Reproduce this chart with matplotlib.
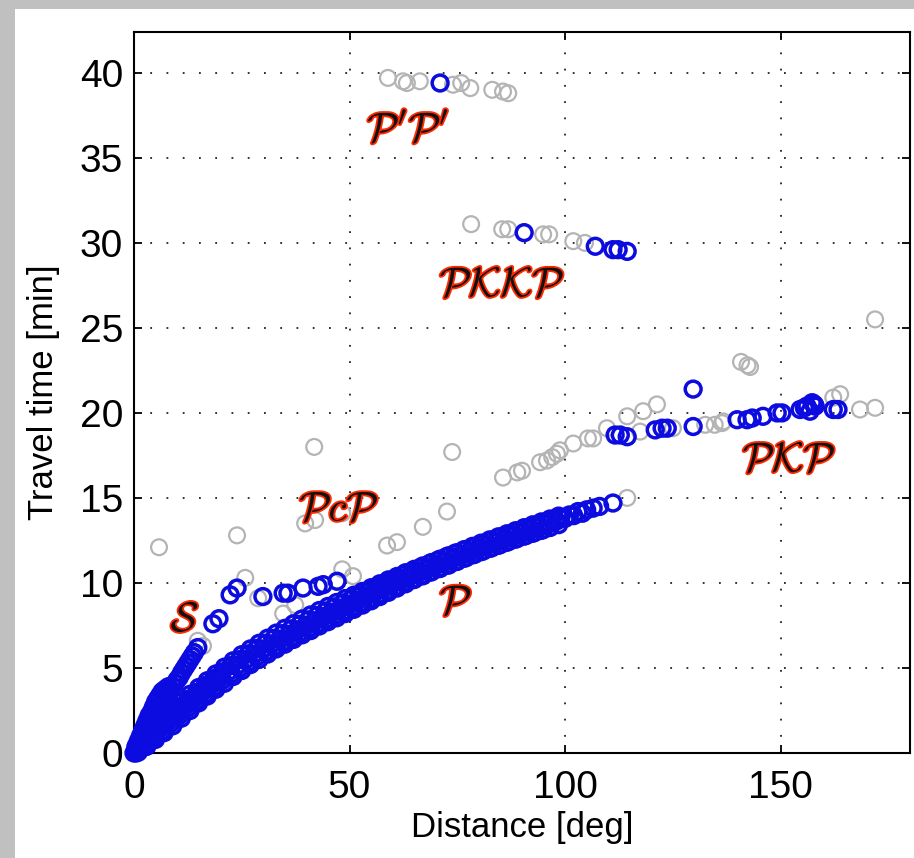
import matplotlib
matplotlib.use("Agg")
import matplotlib.pyplot as plt
import matplotlib.patheffects as pe
from matplotlib.patches import Rectangle

plt.rcParams['font.family'] = ['Liberation Sans', 'DejaVu Sans']
plt.rcParams['mathtext.fontset'] = 'cm'

# direct P: dense band, read as rows across the band
p_dist = [0, 1, 2, 3, 4, 5, 6, 7, 8, 9, 10, 11, 12, 13, 14, 15, 16, 17, 18, 19, 20,
          22, 24, 26, 28, 30, 32, 34, 36, 38, 40, 42, 44, 46, 48, 50, 52, 54, 56, 58,
          60, 62, 64, 66, 68, 70, 72, 74, 76, 78, 80, 82, 84, 86, 88, 90, 92, 94, 96,
          98, 100, 102, 104]
p_time = [0.0, 0.25, 0.5, 0.72, 0.95, 1.2, 1.42, 1.65, 1.88, 2.1, 2.35, 2.57, 2.8, 3.0,
          3.2, 3.42, 3.62, 3.82, 4.02, 4.22, 4.42, 4.8, 5.15, 5.5, 5.82, 6.12, 6.42, 6.7,
          6.98, 7.25, 7.52, 7.78, 8.04, 8.28, 8.52, 8.76, 9.0, 9.24, 9.48, 9.72, 9.95,
          10.18, 10.4, 10.62, 10.83, 11.04, 11.25, 11.45, 11.65, 11.85, 12.04, 12.23,
          12.42, 12.6, 12.78, 12.96, 13.13, 13.3, 13.47, 13.64, 13.8, 13.96, 14.1]
p_late_dist = [1, 3, 5, 7, 9, 11, 13, 15, 17, 19, 21, 23, 25, 27, 29, 31, 33, 35, 37, 39,
               41, 43, 45, 47, 49, 51, 53, 55, 57, 59, 61, 63, 65, 67, 69, 71, 73, 75, 77,
               79, 81, 83, 85, 87, 89, 91, 93, 95, 97, 99, 101]
p_late_time = [0.6, 1.15, 1.65, 2.1, 2.55, 3.0, 3.45, 3.85, 4.25, 4.65, 5.05, 5.42, 5.78,
               6.12, 6.45, 6.75, 7.05, 7.33, 7.6, 7.88, 8.12, 8.38, 8.62, 8.85, 9.08, 9.28,
               9.5, 9.72, 9.95, 10.18, 10.38, 10.6, 10.8, 11.0, 11.2, 11.4, 11.6, 11.78,
               11.97, 12.15, 12.33, 12.52, 12.7, 12.87, 13.05, 13.2, 13.37, 13.53, 13.7,
               13.85, 14.0]
p_early_dist = [1, 3, 5, 7, 9, 11, 13, 15, 17, 19, 21, 23, 25, 27, 29, 31, 33, 35, 37, 39,
                41, 43, 45, 47, 49, 51, 53, 55, 57, 59, 61, 63, 65, 67, 69, 71, 73, 75, 77,
                79, 81, 83, 85, 87, 89, 91, 93, 95]
p_early_time = [0.05, 0.4, 0.8, 1.2, 1.6, 2.05, 2.5, 2.95, 3.35, 3.75, 4.1, 4.5, 4.85, 5.2,
                5.5, 5.82, 6.12, 6.4, 6.68, 6.95, 7.2, 7.47, 7.72, 7.95, 8.2, 8.45, 8.7,
                8.95, 9.2, 9.45, 9.7, 9.95, 10.2, 10.42, 10.65, 10.85, 11.05, 11.27, 11.48,
                11.68, 11.88, 12.07, 12.26, 12.45, 12.63, 12.8, 12.98, 13.15]
p_mid_dist = [0.5, 2.5, 4.5, 6.5, 8.5, 10.5, 12.5, 14.5, 16.5, 18.5, 20.5, 22.5, 24.5,
              26.5, 28.5, 30.5, 32.5, 34.5, 36.5, 38.5, 40.5, 42.5, 44.5, 46.5, 48.5,
              50.5, 52.5, 54.5, 56.5, 58.5, 60.5, 62.5, 64.5, 66.5, 68.5, 70.5, 72.5,
              74.5, 76.5, 78.5, 80.5, 82.5, 84.5, 86.5, 88.5, 90.5, 92.5, 94.5, 96.5, 98.5]
p_mid_late = [0.37, 0.86, 1.32, 1.78, 2.25, 2.71, 3.15, 3.56, 3.97, 4.37, 4.77, 5.14,
              5.49, 5.83, 6.15, 6.45, 6.74, 7.02, 7.3, 7.57, 7.83, 8.09, 8.35, 8.59, 8.83,
              9.07, 9.31, 9.55, 9.79, 10.03, 10.25, 10.49, 10.7, 10.92, 11.13, 11.34,
              11.55, 11.75, 11.95, 12.15, 12.34, 12.53, 12.71, 12.89, 13.07, 13.25, 13.42,
              13.59, 13.76, 13.93]
p_mid_early = [0.0, 0.36, 0.82, 1.28, 1.75, 2.21, 2.65, 3.06, 3.47, 3.87, 4.27, 4.64,
               4.99, 5.33, 5.65, 5.95, 6.24, 6.52, 6.8, 7.07, 7.33, 7.59, 7.85, 8.09, 8.33,
               8.57, 8.81, 9.05, 9.29, 9.53, 9.75, 9.99, 10.2, 10.42, 10.63, 10.84, 11.05,
               11.25, 11.45, 11.65, 11.84, 12.03, 12.21, 12.39, 12.57, 12.75, 12.92, 13.09,
               13.26, 13.43]

# S branch and near-source cloud (blue)
s_dist = [0.3, 0.6, 1, 1.5, 2, 2.5, 3, 3.5, 4, 4.5, 5, 5.5, 6, 6.5, 7, 7.5, 8, 8.5, 9,
          9.5, 10, 10.5, 11, 11.5, 12, 12.5, 13, 13.5, 14, 14.8, 18.3, 19.7, 22.3, 23.9,
          0.5, 1, 1.5, 2, 2.5, 3, 3.5, 4, 4.5, 5, 5.5, 6, 6.5, 7, 7.5, 8,
          2, 3, 4, 5, 6, 7, 8, 9]
s_time = [0.1, 0.3, 0.45, 0.7, 0.95, 1.15, 1.4, 1.6, 1.85, 2.05, 2.3, 2.5, 2.75, 2.95,
          3.2, 3.35, 3.55, 3.7, 3.9, 4.1, 4.3, 4.45, 4.7, 4.9, 5.1, 5.3, 5.5, 5.7, 5.9,
          6.2, 7.6, 7.9, 9.3, 9.7,
          0.4, 0.7, 1.0, 1.3, 1.6, 1.9, 2.2, 2.4, 2.7, 3.0, 3.2, 3.4, 3.6, 3.7, 3.8, 3.9,
          0.8, 1.1, 1.4, 1.7, 2.0, 2.2, 2.5, 2.8]

# other picked phases (blue)
b_dist = [71.0,
          90.5, 107.0, 111.1, 112.3, 114.4,
          29.9, 34.6, 35.7, 39.2, 42.7, 43.9, 47.1,
          103.0, 105.0, 106.5, 108.0, 111.1,
          111.6, 112.8, 114.4, 120.9, 122.5, 123.7, 129.7, 129.7,
          139.9, 142.2, 143.4, 145.9, 149.2, 150.3, 154.5, 155.5, 156.1, 157.3, 158.0,
          156.8, 157.8, 162.2, 163.3]
b_time = [39.4,
          30.6, 29.8, 29.6, 29.6, 29.5,
          9.2, 9.4, 9.4, 9.7, 9.8, 9.9, 10.1,
          14.2, 14.3, 14.4, 14.5, 14.7,
          18.7, 18.7, 18.6, 19.0, 19.1, 19.1, 21.4, 19.2,
          19.6, 19.6, 19.7, 19.8, 20.0, 20.0, 20.2, 20.3, 20.4, 20.6, 20.4,
          20.1, 20.5, 20.2, 20.2]

# unpicked arrivals (grey)
g_dist = [58.9, 62.4, 63.3, 66.3, 74.0, 75.9, 78.0, 83.1, 85.6, 86.8,
          78.2, 85.4, 86.8, 94.9, 96.3, 101.9, 104.6,
          5.8, 23.9, 25.8, 28.8, 34.6, 37.4, 48.3, 50.8, 39.7, 42.0, 48.3, 41.8,
          58.7, 61.0, 67.0, 72.6, 73.8, 14.8, 16.0,
          85.6, 88.9, 90.0, 94.2, 95.8, 97.0, 98.1, 98.8, 101.9, 105.3, 106.5, 109.7,
          114.4, 118.1, 121.3, 117.4, 125.0, 132.5, 134.7, 136.4, 136.7,
          140.8, 142.9, 142.3, 162.2, 163.8, 168.4, 171.9, 171.9, 114.4]
g_time = [39.7, 39.5, 39.4, 39.5, 39.3, 39.4, 39.1, 39.0, 38.9, 38.8,
          31.1, 30.8, 30.8, 30.5, 30.5, 30.1, 30.0,
          12.1, 12.8, 10.3, 9.1, 8.2, 8.7, 10.8, 10.4, 13.5, 13.7, 14.1, 18.0,
          12.2, 12.4, 13.3, 14.2, 17.7, 6.6, 6.3,
          16.2, 16.5, 16.6, 17.1, 17.2, 17.4, 17.6, 17.8, 18.2, 18.5, 18.5, 19.1,
          19.8, 20.1, 20.5, 18.9, 19.1, 19.3, 19.3, 19.4, 19.5,
          23.0, 22.7, 22.8, 20.9, 21.1, 20.2, 20.3, 25.5, 15.0]

# handwritten phase names
phase_names = [r"$\mathcal{P}'\mathcal{P}'$", r"$\mathcal{PKKP}$", r"$\mathcal{PKP}$",
               r"$\mathcal{P}c\mathcal{P}$", r"$\mathcal{S}$", r"$\mathcal{P}$"]
phase_x = [63.6, 85.4, 152.0, 47.6, 11.8, 74.7]
phase_y = [36.6, 27.5, 17.2, 14.3, 7.8, 8.8]

fig = plt.figure(figsize=(9.14, 8.58), dpi=100)
fig.patch.set_facecolor('white')
# grey window border on the left and top
fig.patches.append(Rectangle((0, 0), 15 / 914, 1, transform=fig.transFigure,
                             facecolor='#c0c0c0', edgecolor='none', zorder=-10))
fig.patches.append(Rectangle((0, 1 - 9 / 858), 1, 9 / 858, transform=fig.transFigure,
                             facecolor='#c0c0c0', edgecolor='none', zorder=-10))
ax = fig.add_axes([134 / 914, 1 - 753 / 858, 776 / 914, 721 / 858])

grey = '#b4b4b4'
blue = '#0c0ce0'
ax.scatter(g_dist, g_time, s=130, facecolors='none', edgecolors=grey, linewidths=1.6,
           clip_on=False, zorder=3)
for d, t in [(p_dist, p_time), (p_late_dist, p_late_time),
             (p_early_dist, p_early_time), (p_mid_dist, p_mid_late),
             (p_mid_dist, p_mid_early), (s_dist, s_time), (b_dist, b_time)]:
    ax.scatter(d, t, s=130, facecolors='none', edgecolors=blue, linewidths=2.5,
               clip_on=False, zorder=4)

for name, x, y in zip(phase_names, phase_x, phase_y):
    ax.text(x, y, name, fontsize=30, color='#111111', ha='center', va='center',
            zorder=6, path_effects=[pe.withStroke(linewidth=2.6, foreground='#ff2a00')])

ax.set_xlim(0, 180)
ax.set_ylim(0, 42.4)
ax.set_xticks([0, 50, 100, 150])
ax.set_yticks(range(0, 41, 5))
ax.grid(True, color='#222222', linestyle=(0, (1, 8)), linewidth=1.3)
ax.tick_params(direction='in', top=True, right=True, length=6, width=1.3,
               labelsize=28, pad=8)
ax.tick_params(axis='x', pad=12)
for sp in ax.spines.values():
    sp.set_linewidth(1.5)
ax.set_xlabel("Distance [deg]", fontsize=25, labelpad=4)
ax.set_ylabel("Travel time [min]", fontsize=25, labelpad=14)

fig.savefig("out.png", dpi=100)
